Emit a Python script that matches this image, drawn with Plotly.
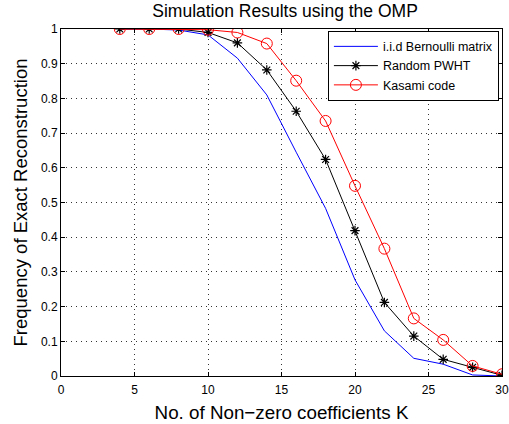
import plotly.graph_objects as go

K = [4, 6, 8, 10, 12, 14, 16, 18, 20, 22, 24, 26, 28, 30]
bernoulli = [1.0, 1.0, 0.997, 0.983, 0.916, 0.81, 0.645, 0.483, 0.277, 0.13, 0.051, 0.034, 0.003, 0.0]
pwht = [1.0, 1.0, 1.0, 0.99, 0.96, 0.882, 0.763, 0.624, 0.419, 0.212, 0.115, 0.048, 0.025, 0.002]
kasami = [1.0, 1.0, 1.0, 0.998, 0.99, 0.958, 0.851, 0.735, 0.548, 0.367, 0.166, 0.104, 0.029, 0.005]

x_ticks = [0, 5, 10, 15, 20, 25, 30]
y_ticks = [0, 0.1, 0.2, 0.3, 0.4, 0.5, 0.6, 0.7, 0.8, 0.9, 1]
y_tick_labels = ["0", "0.1", "0.2", "0.3", "0.4", "0.5", "0.6", "0.7", "0.8", "0.9", "1"]

FONT = "Liberation Sans, Arial, Helvetica"

fig = go.Figure()
fig.add_trace(go.Scatter(x=K, y=bernoulli, mode="lines", name="i.i.d Bernoulli matrix",
                         line=dict(color="#0000ff", width=1)))
fig.add_trace(go.Scatter(x=K, y=pwht, mode="lines+markers", name="Random PWHT",
                         line=dict(color="#000000", width=1),
                         marker=dict(symbol="asterisk-open", size=8, color="#000000",
                                     line=dict(color="#000000", width=1.2))))
fig.add_trace(go.Scatter(x=K, y=kasami, mode="lines+markers", name="Kasami code",
                         line=dict(color="#ff0000", width=1),
                         marker=dict(symbol="circle-open", size=11, color="#ff0000",
                                     line=dict(color="#ff0000", width=1))))

axis_common = dict(
    showline=True, linecolor="#000000", linewidth=1, mirror="ticks",
    ticks="inside", ticklen=4, tickcolor="#000000",
    showgrid=True, gridcolor="#333333", griddash="1px,4px", gridwidth=1,
    zeroline=False, automargin=False,
    tickfont=dict(family=FONT, size=12, color="#000000"),
)

fig.update_xaxes(range=[0, 30], tickvals=x_ticks, ticklabelstandoff=3,
                 title=dict(text="No. of Non\u2212zero coefficients K",
                            font=dict(family=FONT, size=18.8, color="#000000"),
                            standoff=9),
                 **axis_common)
fig.update_yaxes(range=[0, 1], tickvals=y_ticks, ticktext=y_tick_labels,
                 title=dict(text="Frequency of Exact Reconstruction",
                            font=dict(family=FONT, size=18.5, color="#000000"),
                            standoff=8),
                 **axis_common)

fig.update_layout(
    width=509, height=424,
    margin=dict(l=61, r=7, t=29, b=48),
    paper_bgcolor="#ffffff", plot_bgcolor="#ffffff",
    title=dict(text="Simulation Results using the OMP", x=0.56, xanchor="center",
               y=0.974, yanchor="middle",
               font=dict(family=FONT, size=17.5, color="#000000")),
    legend=dict(x=0.993, y=0.995, xanchor="right", yanchor="top",
                bgcolor="#ffffff", bordercolor="#000000", borderwidth=1,
                font=dict(family=FONT, size=12.5, color="#000000"),
                tracegroupgap=0, itemwidth=44),
    showlegend=True,
)

fig.write_html("out.html", config={"displayModeBar": False},
               post_script="document.body.style.margin='0';")
